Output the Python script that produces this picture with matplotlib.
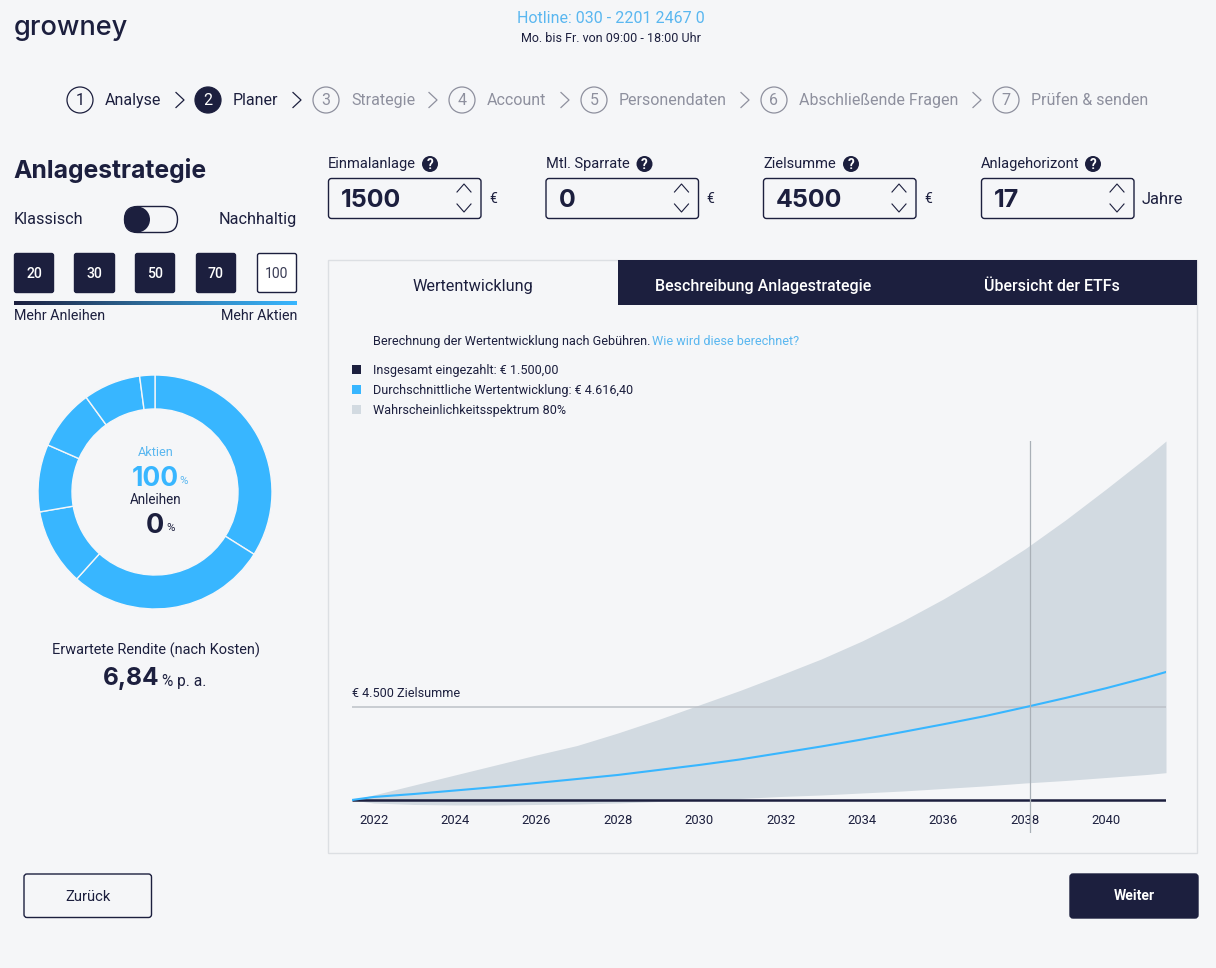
import numpy as np
import matplotlib
matplotlib.use("Agg")
import matplotlib.pyplot as plt
from matplotlib.patches import FancyBboxPatch, Circle, Rectangle
from matplotlib.colors import LinearSegmentedColormap

# ---------- data ----------
years = [2021.47, 2022, 2023, 2024, 2025, 2026, 2027, 2028, 2029, 2030, 2031, 2032,
         2033, 2034, 2035, 2036, 2037, 2038, 2039, 2040, 2041, 2041.47]
upper = [1500, 1661, 1984, 2307, 2629, 2952, 3258, 3661, 4097, 4565, 5032, 5532,
         6049, 6629, 7275, 7984, 8759, 9597, 10533, 11533, 12565, 13081]
lower = [1500, 1403, 1355, 1339, 1339, 1355, 1371, 1403, 1452, 1500, 1548, 1613,
         1661, 1726, 1790, 1871, 1952, 2048, 2129, 2226, 2323, 2381]
average = [1500, 1597, 1694, 1806, 1919, 2048, 2177, 2307, 2468, 2629, 2807, 3016,
           3226, 3452, 3694, 3942, 4200, 4491, 4791, 5107, 5452, 5629]
deposited = [1500] * len(years)
target = 4500
horizon_year = 2038.13
year_ticks = [2022, 2024, 2026, 2028, 2030, 2032, 2034, 2036, 2038, 2040]
donut_shares = [33.9, 27.7, 10.6, 9.3, 8.4, 7.9, 2.1]
steps = ["Analyse", "Planer", "Strategie", "Account", "Personendaten",
         "Abschließende Fragen", "Prüfen & senden"]
risk_levels = ["20", "30", "50", "70", "100"]
input_labels = ["Einmalanlage", "Mtl. Sparrate", "Zielsumme", "Anlagehorizont"]
input_values = ["1500", "0", "4500", "17"]
input_units = ["€", "€", "€", "Jahre"]
tabs = ["Wertentwicklung", "Beschreibung Anlagestrategie", "Übersicht der ETFs"]
legend_labels = ["Insgesamt eingezahlt: € 1.500,00",
                 "Durchschnittliche Wertentwicklung: € 4.616,40",
                 "Wahrscheinlichkeitsspektrum 80%"]

# ---------- style ----------
BG = "#f5f6f8"
NAVY = "#1c1f3e"
BLUE = "#38b6ff"
LINK = "#5ab7f0"
BAND = "#d2dae1"
MUTED = "#8e909e"
BORDER = "#dcdfe3"
W, H = 1216, 968
plt.rcParams["font.family"] = ["Roboto", "DejaVu Sans"]

fig = plt.figure(figsize=(W / 100, H / 100), dpi=100, facecolor=BG)
ui = fig.add_axes([0, 0, 1, 1], zorder=0)
ui.set_axis_off()


def px(size):
    return size * 72 / 100


def txt(x, y, s, size=15, color=NAVY, ha="left", weight="normal", family=None, **kw):
    return ui.text(x, y - 0.8, s, fontsize=px(size), color=color, ha=ha, va="center_baseline",
                   fontweight=weight, family=family or ["Roboto", "DejaVu Sans"], **kw)


def box(x0, y0, x1, y1, face="none", edge=NAVY, lw=1.0, r=3, z=2):
    ui.add_patch(FancyBboxPatch((x0 + r, y0 + r), x1 - x0 - 2 * r, y1 - y0 - 2 * r,
                                boxstyle=f"round,pad={r},rounding_size={r}",
                                fc=face, ec=edge, lw=lw, zorder=z))


def right_chev(x, y, color):
    ui.plot([x - 4, x + 4, x - 4], [y - 7.5, y, y + 7.5], color=color, lw=0.9, zorder=3)


def vert_chev(x, y, up=True):
    s = -1 if up else 1
    ui.plot([x - 7, x, x + 7], [y - s * 4, y + s * 4, y - s * 4], color=NAVY, lw=0.8, zorder=3)


# ---------- header ----------
txt(14, 26, "growney", size=27.2, family=["Inter", "DejaVu Sans"], weight="medium")
txt(611, 18, "Hotline: 030 - 2201 2467 0", size=16, color=LINK, ha="center")
txt(611, 38, "Mo. bis Fr. von 09:00 - 18:00 Uhr", size=12.5, ha="center")

# ---------- step navigator ----------
step_x = [80, 208, 326, 462, 594, 774, 1006]
chev_x = [180, 297, 433, 565, 745, 977]
for i, (sx, label) in enumerate(zip(step_x, steps)):
    active = i < 2
    col = NAVY if active else MUTED
    ui.add_patch(Circle((sx, 100), 13, fc=NAVY if i == 1 else "none", ec=col, lw=0.9, zorder=2))
    txt(sx, 100, str(i + 1), size=16, color="white" if i == 1 else col, ha="center", zorder=3)
    txt(sx + 25, 100, label, size=16, color=col)
for i, cx in enumerate(chev_x):
    right_chev(cx, 100, NAVY if i < 2 else MUTED)

# ---------- left column ----------
txt(13.5, 169, "Anlagestrategie", size=24.7, weight="bold", family=["Inter", "DejaVu Sans"])
txt(14, 219, "Klassisch", size=16.2)
txt(297, 219, "Nachhaltig", size=16.2, ha="right")
box(124.5, 206.5, 177.5, 232.5, face="none", edge=NAVY, r=13)
ui.add_patch(Circle((137, 219.5), 13, fc=NAVY, ec=NAVY, lw=0, zorder=3))

btn_x = [(14, 54), (74, 115), (135, 175), (196, 236), (257, 297)]
for (x0, x1), lab in zip(btn_x, risk_levels):
    selected = lab == "100"
    box(x0 + .5, 253.5, x1 - .5, 292.5, face="white" if selected else NAVY, edge=NAVY, r=2)
    txt((x0 + x1) / 2, 273, lab, size=14, color="#3a3c55" if selected else "white", ha="center",
        zorder=4, weight="normal" if selected else "medium")

grad = LinearSegmentedColormap.from_list("g", [NAVY, "#2e6f9f", BLUE])
ui.imshow(np.linspace(0, 1, 283)[None, :], extent=(14, 297, 305, 301), aspect="auto", cmap=grad, zorder=2)
txt(14, 315.5, "Mehr Anleihen", size=14.3)
txt(297, 315.5, "Mehr Aktien", size=14.3, ha="right")

txt(155.5, 452, "Aktien", size=12.7, color=LINK, ha="center")
txt(155.5, 476.5, "100", size=26.5, color=BLUE, ha="center", weight="bold", family=["Inter", "DejaVu Sans"])
txt(179.5, 480.5, "%", size=11.5, color=LINK)
txt(155.5, 499.5, "Anleihen", size=13.5, ha="center")
txt(155, 523.5, "0", size=27, ha="center", weight="bold", family=["Inter", "DejaVu Sans"])
txt(166, 527.5, "%", size=11.5)
txt(155.5, 649.5, "Erwartete Rendite (nach Kosten)", size=14.5, ha="center")
txt(103, 676.5, "6,84", size=24.5, weight="bold", family=["Inter", "DejaVu Sans"])
txt(162, 680.5, "% p. a.", size=15.5)

# ---------- inputs ----------
box_x = [328, 545.5, 763, 981]
label_widths = [102, 99, 88, 112]
for bx, lab, lab_w, val, unit in zip(box_x, input_labels, label_widths, input_values, input_units):
    txt(bx, 163.5, lab, size=14.6)
    ui.add_patch(Circle((bx + lab_w, 164), 8, fc=NAVY, ec=NAVY, lw=0, zorder=2))
    txt(bx + lab_w, 164.5, "?", size=13.5, color="white", ha="center", weight="bold", zorder=3)
    box(bx + .5, 178.5, bx + 153, 218.5, face="none", edge=NAVY, r=3)
    txt(bx + 13, 198.5, val, size=25, weight="bold", family=["Inter", "DejaVu Sans"])
    vert_chev(bx + 136, 188, True)
    vert_chev(bx + 136, 208, False)
    txt(bx + 161, 198.5, unit, size=16.5 if unit != "€" else 14)

# ---------- panel ----------
ui.add_patch(Rectangle((328, 260), 869, 593, fc="none", ec=BORDER, lw=1, zorder=1))
ui.add_patch(Rectangle((618, 260), 579, 45, fc=NAVY, ec="none", zorder=2))
txt(473, 285.5, tabs[0], size=16.2, ha="center", zorder=3)
txt(763, 285.5, tabs[1], size=16, color="white", ha="center", weight="medium", zorder=3)
txt(1052, 285.5, tabs[2], size=16, color="white", ha="center", weight="medium", zorder=3)

txt(373, 341, "Berechnung der Wertentwicklung nach Gebühren.", size=12.6)
txt(652, 341, "Wie wird diese berechnet?", size=12.6, color=LINK)
for y, c, lab in zip([370, 390, 410], [NAVY, BLUE, BAND], legend_labels):
    ui.add_patch(Rectangle((352, y - 5), 9, 9, fc=c, ec="none", zorder=2))
    txt(373, y, lab, size=12.6)
txt(352, 693, "€ 4.500 Zielsumme", size=12.6)

# ---------- footer buttons ----------
box(24, 874, 151.5, 917.5, edge=NAVY, r=3)
txt(88, 896, "Zurück", size=14.7, ha="center")
box(1070, 874, 1198, 918, face=NAVY, edge=NAVY, r=3)
txt(1134, 895.5, "Weiter", size=14, color="white", ha="center", weight="bold", zorder=3)

ui.set_xlim(0, W)
ui.set_ylim(H, 0)

# ---------- donut ----------
dn = fig.add_axes([38 / W, 1 - 609 / H, 234 / W, 234 / H], zorder=2)
dn.pie(donut_shares, startangle=90, counterclock=False, radius=1,
       colors=[BLUE] * len(donut_shares),
       wedgeprops=dict(width=34 / 117, edgecolor=BG, linewidth=1.0))
dn.set_xlim(-1, 1)
dn.set_ylim(-1, 1)
dn.set_aspect("equal")

# ---------- projection chart ----------
left, right, top, bottom = 352, 1166, 441, 833
ax = fig.add_axes([left / W, 1 - bottom / H, (right - left) / W, (bottom - top) / H], zorder=3)
ax.patch.set_alpha(0)
ax.fill_between(years, lower, upper, color=BAND, lw=0, zorder=1)
ax.axhline(target, color="#bcc1c7", lw=1.1, zorder=2)
ax.plot(years, average, color=BLUE, lw=1.5, zorder=4)
ax.plot(years, deposited, color=NAVY, lw=1.8, zorder=3, solid_capstyle="butt")
ax.axvline(horizon_year, color="#a9b0b7", lw=0.9, zorder=5)
ax.set_xlim(years[0], years[-1])
ax.set_ylim(435, 13081)
ax.set_yticks([])
ax.set_xticks(year_ticks, [str(y) for y in year_ticks])
ax.tick_params(axis="x", length=0, pad=-14, labelsize=px(13), labelcolor=NAVY)
for s in ax.spines.values():
    s.set_visible(False)

fig.savefig("out.png", dpi=100, facecolor=BG)
